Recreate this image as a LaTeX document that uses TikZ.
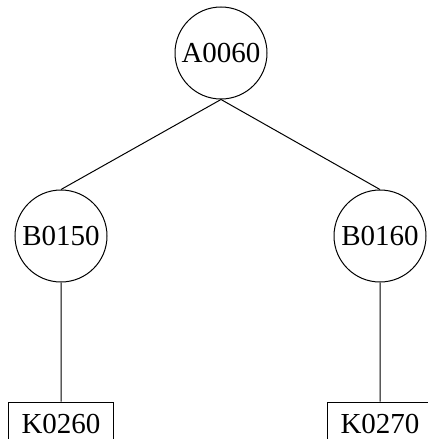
\documentclass[tikz,border=0pt]{standalone}
\usepackage{fontspec}
\setmainfont{Liberation Serif}
\usetikzlibrary{positioning}

\begin{document}
\begin{tikzpicture}[x=1pt,y=-1pt,on grid,line width=1pt,
    font=\fontsize{29}{33}\selectfont,
    item/.style={circle,draw,inner sep=0pt,minimum size=92pt},
    leaf/.style={rectangle,draw,inner sep=0pt,minimum width=105pt,minimum height=44pt}]
  \clip (0,0) rectangle (428,439);
  % Root and the two branches
  \node[item] (a0060) at (221,53) {A0060};
  \node[item] (b0150) [below left=183pt and 160pt of a0060] {B0150};
  \node[item] (b0160) [below right=183pt and 159pt of a0060] {B0160};
  % Leaves, cut by the lower edge
  \node[leaf] (k0260) [below=188pt of b0150] {K0260};
  \node[leaf] (k0270) [below=188pt of b0160] {K0270};

  % Links
  \draw (a0060.south) -- (b0150.north)
        (a0060.south) -- (b0160.north)
        (b0150.south) -- (k0260.north)
        (b0160.south) -- (k0270.north);
\end{tikzpicture}
\end{document}
